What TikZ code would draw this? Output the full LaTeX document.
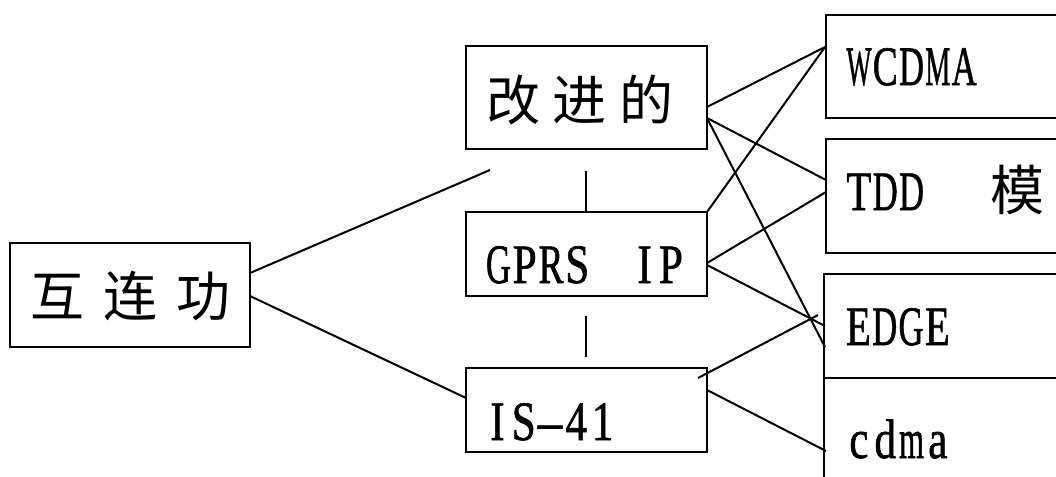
\documentclass[tikz,border=0pt]{standalone}
\usepackage{fontspec}
\usepackage{graphicx}
\setmainfont{Liberation Serif}
\newfontfamily\latinface[FakeBold=1.2]{Liberation Serif}
\newfontfamily\cjk{Noto Sans CJK SC}

% half-width Latin: every character sits in a cell of fixed width
\newlength\pxu \setlength\pxu{0.75pt}
\newlength\glyphw
\newlength\cellw \setlength\cellw{26.3\pxu}
\newlength\inkmax \setlength\inkmax{25\pxu}
\newcommand\halfcell[1]{\settowidth\glyphw{#1}%
  \makebox[\cellw][c]{\scalebox{\fpeval{min(0.8,\inkmax/\glyphw)}}[1.03]{#1}}}
\newcommand\halfwidth[1]{\halfwidthloop#1\relax}
\def\halfwidthloop#1{\ifx#1\relax\else\halfcell{#1}\expandafter\halfwidthloop\fi}

\tikzset{
  box/.style={draw, rectangle, inner sep=0pt, line width=1.5pt},
  zh/.style={inner sep=0pt, anchor=base, font=\cjk\fontsize{40.5pt}{48pt}\selectfont},
  lat/.style={inner sep=0pt, anchor=base west, font=\latinface\fontsize{40.5pt}{48pt}\selectfont},
  link/.style={line width=1.5pt}
}

\begin{document}
\begin{tikzpicture}[x=0.75pt, y=-0.75pt]
\clip (0,0) rectangle (1056,476);
\fill[white] (0,0) rectangle (1056,476);

% boxes
\node[box, minimum width=180pt,   minimum height=78pt]    (A) at (130,295)   {};
\node[box, minimum width=180.75pt, minimum height=77.25pt] (B) at (586.5,97.5) {};
\node[box, minimum width=180.75pt, minimum height=63pt]    (C) at (586.5,254) {};
\node[box, minimum width=180.75pt, minimum height=63pt]    (D) at (586.5,410) {};
\node[box, minimum width=198pt,   minimum height=77.25pt] (E) at (958,66.5)  {};
\node[box, minimum width=198pt,   minimum height=85.5pt]  (F) at (958,196)   {};
\node[box, minimum width=199.5pt, minimum height=78pt]    (G) at (957,326)   {};
\node[box, minimum width=199.5pt, minimum height=91.5pt]  (H) at (957,439)   {};

% labels
\node[zh] (Atext) at (130.5,316.5) {互\hspace{14.25pt}连\hspace{14.25pt}功};
\node[zh] (Btext) at (580,120) {改\hspace{9.75pt}进\hspace{9.75pt}的};
\node[lat] (Ctext) at (485,283) {\halfwidth{GPRS}\hspace{30.75pt}\halfwidth{IP}};
\node[lat] (Dtext) at (484,440) {\halfwidth{IS—41}};
\node[lat] (Etext) at (845.5,85) {\halfwidth{WCDMA}};
\node[lat] (Ftext) at (845.5,210) {\halfwidth{TDD}\hspace{49.5pt}{\cjk 模}};
\node[lat] (Gtext) at (845,345) {\halfwidth{EDGE}};
\node[lat] (Htext) at (845.5,458) {\halfwidth{cdma}};

% connector end points
\coordinate (a1) at (250,273);
\coordinate (a2) at (250,296);
\coordinate (afree) at (490,170);
\coordinate (d1) at (466,398);
\coordinate (b1) at (707,107);
\coordinate (b2) at (707,118);
\coordinate (c1) at (707,212);
\coordinate (c2) at (707,263);
\coordinate (c3) at (707,265);
\coordinate (d2) at (698,378);
\coordinate (d3) at (707,390);
\coordinate (e1) at (825,47);
\coordinate (f1) at (826,180);
\coordinate (f2) at (826,192);
\coordinate (g1) at (825,326);
\coordinate (g2) at (825,347);
\coordinate (g3) at (818,315);
\coordinate (h1) at (826,451);
\coordinate (v1) at (586,171);
\coordinate (v2) at (586,316);
\coordinate (v3) at (586,357);

% connectors
\draw[link] (a1) -- (afree);
\draw[link] (a2) -- (d1);
\draw[link] (v1) -- (C.north -| v1);
\draw[link] (v2) -- (v3);
\draw[link] (b1) -- (e1);
\draw[link] (b2) -- (f1);
\draw[link] (b2) -- (g2);
\draw[link] (c1) -- (e1);
\draw[link] (c2) -- (f2);
\draw[link] (c3) -- (g1);
\draw[link] (d2) -- (g3);
\draw[link] (d3) -- (h1);
\end{tikzpicture}
\end{document}
